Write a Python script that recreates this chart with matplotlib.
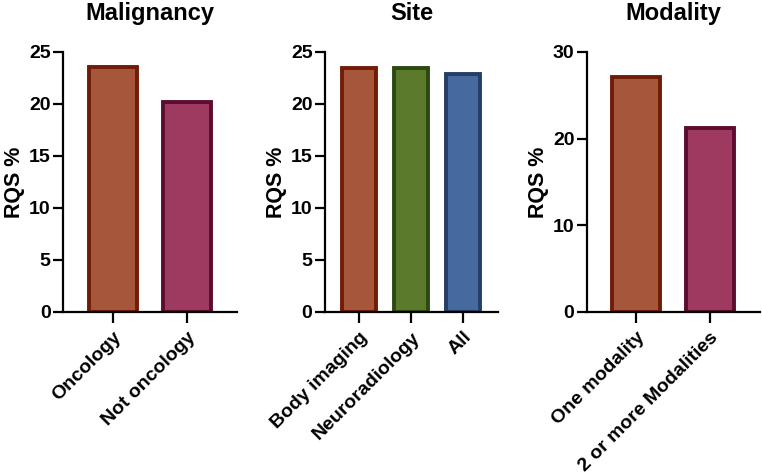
import matplotlib
matplotlib.use("Agg")
import matplotlib.pyplot as plt

plt.rcParams['font.family'] = ['Liberation Sans', 'DejaVu Sans']
plt.rcParams['font.weight'] = 'bold'

mal_cats = ["Oncology", "Not oncology"]
mal_vals = [23.6, 20.2]
site_cats = ["Body imaging", "Neuroradiology", "All"]
site_vals = [23.5, 23.45, 22.9]
mod_cats = ["One modality", "2 or more Modalities"]
mod_vals = [27.1, 21.2]

fills = {"brown": "#A5563B", "rose": "#9E3A60", "green": "#5B7A2C", "blue": "#4669A0"}
edges = {"brown": "#701C06", "rose": "#5C0C30", "green": "#2C4A10", "blue": "#263E66"}

fig = plt.figure(figsize=(7.62, 4.76), dpi=100)

panels = [
    ("Malignancy", mal_cats, mal_vals, ["brown", "rose"], [0, 25], [0, 5, 10, 15, 20, 25],
     (63, 237), (-0.676, 1.676)),
    ("Site", site_cats, site_vals, ["brown", "green", "blue"], [0, 25], [0, 5, 10, 15, 20, 25],
     (325, 498), (-0.654, 2.67)),
    ("Modality", mod_cats, mod_vals, ["brown", "rose"], [0, 30], [0, 10, 20, 30],
     (587, 760), (-0.66, 1.68)),
]

W, H = 762, 476
y_top, y_bot = 52, 312
for title, cats, vals, cols, ylim, yticks, (x0, x1), xlim in panels:
    ax = fig.add_axes([x0 / W, 1 - y_bot / H, (x1 - x0) / W, (y_bot - y_top) / H])
    xs = list(range(len(cats)))
    ax.bar(xs, vals, width=0.65, color=[fills[c] for c in cols],
           edgecolor=[edges[c] for c in cols], linewidth=2.8, zorder=2)
    ax.set_xlim(*xlim)
    ax.set_ylim(*ylim)
    ax.set_yticks(yticks)
    ax.set_xticks(xs)
    ax.set_xticklabels(cats, rotation=45, ha='right', rotation_mode='anchor',
                       fontsize=14, fontweight='bold')
    ax.tick_params(axis='y', labelsize=14, width=1.6, length=7, pad=2)
    ax.tick_params(axis='x', width=1.6, length=8, pad=4)
    for lbl in ax.get_yticklabels():
        lbl.set_fontweight('bold')
    ax.spines['top'].set_visible(False)
    ax.spines['right'].set_visible(False)
    ax.spines['left'].set_linewidth(1.6)
    ax.spines['bottom'].set_linewidth(1.6)
    ax.set_ylabel("RQS %", fontsize=15.5, fontweight='bold', labelpad=3)
    ax.set_title(title, fontsize=17, fontweight='bold', pad=23)

fig.savefig("out.png", dpi=100)
